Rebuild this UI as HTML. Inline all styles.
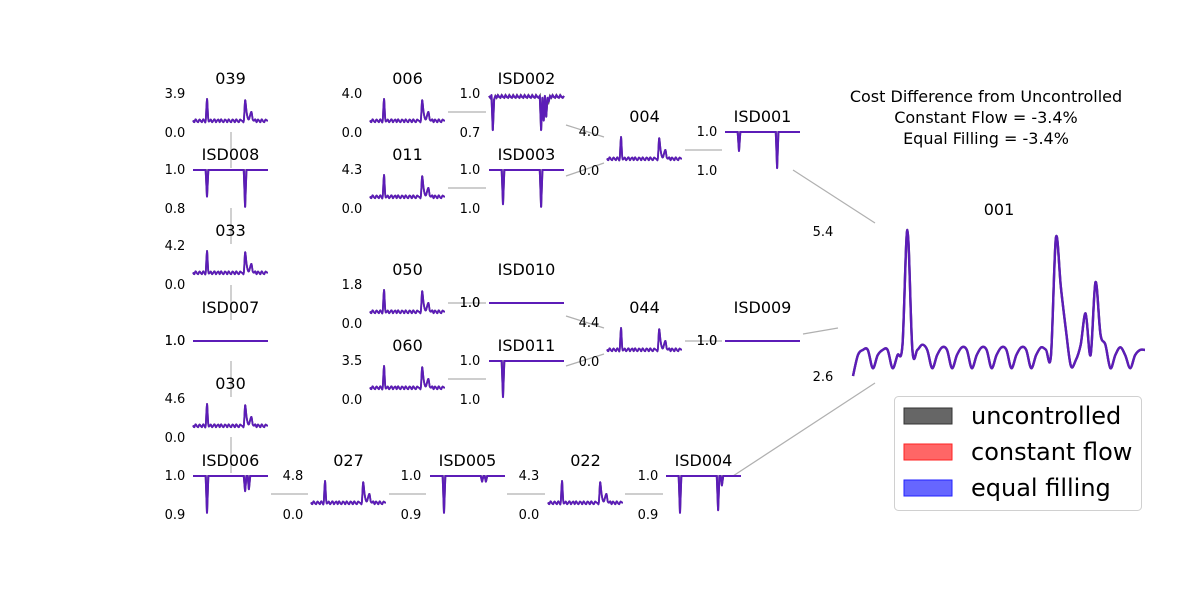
<!DOCTYPE html>
<html><head><meta charset="utf-8">
<style>
html,body{margin:0;padding:0;background:#fff;}
svg{display:block;font-family:"DejaVu Sans","Liberation Sans",sans-serif;}
</style></head>
<body>
<svg id="c" width="1200" height="600" viewBox="0 0 1200 600"></svg>
<script>
// ---- data ----
const mainValues = [2.6,3.0,3.1,3.1,2.75,3.0,3.1,3.1,2.75,3.0,3.2,5.4,3.1,3.1,3.2,3.1,2.75,3.0,3.15,3.1,2.75,3.0,3.15,3.1,2.75,3.0,3.15,3.1,2.75,3.0,3.15,3.1,2.75,3.0,3.15,3.1,2.75,3.0,3.15,3.1,3.0,5.25,4.3,3.5,2.8,2.9,3.2,3.8,3.0,4.4,3.4,3.2,2.75,3.0,3.15,3.0,2.75,3.0,3.1,3.1];
const junctionShape = [0.26,0.2,0.3,0.24,0.2,0.29,0.25,0.2,0.3,0.24,0.25,1.0,0.3,0.24,0.29,0.2,0.25,0.3,0.2,0.26,0.29,0.2,0.3,0.24,0.2,0.29,0.26,0.2,0.3,0.24,0.2,0.29,0.26,0.2,0.3,0.24,0.2,0.29,0.26,0.24,0.25,0.95,0.6,0.35,0.3,0.45,0.55,0.3,0.25,0.3,0.2,0.29,0.25,0.2,0.3,0.24,0.2,0.29,0.26,0.25];
const isdFlat = [1,1,1,1,1,1,1,1,1,1,1,1,1,1,1,1,1,1,1,1,1,1,1,1,1,1,1,1,1,1,1,1,1,1,1,1,1,1,1,1,1,1,1,1,1,1,1,1,1,1,1,1,1,1,1,1,1,1,1,1];
const isd002 = [0.95,0.9,0.97,0.05,0.85,0.95,0.9,0.97,0.92,0.9,0.97,0.92,0.9,0.97,0.92,0.9,0.97,0.92,0.9,0.97,0.92,0.9,0.97,0.92,0.9,0.97,0.92,0.9,0.97,0.92,0.9,0.97,0.92,0.9,0.97,0.92,0.9,0.97,0.92,0.9,0.95,0.05,0.9,0.3,0.95,0.4,0.9,0.8,0.95,0.9,0.97,0.92,0.9,0.97,0.92,0.9,0.97,0.92,0.9,0.95];
const dips008 = [[11,0.3],[41,0.03]];
const dips003 = [[11,0.1],[41,0.03]];
const dips001 = [[11,0.5],[41,0.05]];
const dips011 = [[11,0.05]];
const dips006 = [[11,0.03],[41,0.6],[44,0.65]];
const dips005 = [[11,0.03],[41,0.85],[44,0.85]];
const dips004 = [[11,0.03],[41,0.1],[44,0.75]];

const svg = document.getElementById('c');
const NS = 'http://www.w3.org/2000/svg';
function mk(tag, attrs, parent){
  const e = document.createElementNS(NS, tag);
  for (const k in attrs) e.setAttribute(k, attrs[k]);
  (parent||svg).appendChild(e);
  return e;
}
function withDips(d){const a=isdFlat.slice(); d.forEach(p=>{a[p[0]]=p[1];}); return a;}

const connectors = [
 [231,132,231,168],[231,208,231,244],[231,285,231,320],[231,361,231,397],[231,437,231,473],
 [448,112,486,112],[448,188,486,188],[448,303,486,303],[448,379,486,379],
 [566,125,604,137],[566,176,604,163],[566,316,604,328],[566,366,604,354],
 [685,150,722,150],[685,341,722,341],
 [793,170,875,223],[803,334,838,328],[733,476,875,383],
 [271,494,308,494],[389,494,426,494],[507,494,545,494],[625,494,663,494]
];
connectors.forEach(c=>{
  const l = mk('line',{x1:c[0],y1:c[1],x2:c[2],y2:c[3],stroke:'#b0b0b0','stroke-width':1.2});
  
  
});

function pathD(pts, smooth){
  if (!smooth) return pts.map((p,i)=>(i?'L':'M')+p[0].toFixed(1)+','+p[1].toFixed(1)).join(' ');
  let d = 'M'+pts[0][0].toFixed(1)+','+pts[0][1].toFixed(1);
  for (let i=0;i<pts.length-1;i++){
    const p0=pts[Math.max(0,i-1)], p1=pts[i], p2=pts[i+1], p3=pts[Math.min(pts.length-1,i+2)];
    const c1=[p1[0]+(p2[0]-p0[0])/6, p1[1]+(p2[1]-p0[1])/6];
    const c2=[p2[0]-(p3[0]-p1[0])/6, p2[1]-(p3[1]-p1[1])/6];
    d += ' C'+c1[0].toFixed(1)+','+c1[1].toFixed(1)+' '+c2[0].toFixed(1)+','+c2[1].toFixed(1)+' '+p2[0].toFixed(1)+','+p2[1].toFixed(1);
  }
  return d;
}
function drawSeries(g, vals, x0, w, yTop, yBot, lo, hi, sw, smooth){
  const xs = i => x0 + i*w/(vals.length-1);
  const ys = v => yBot - (v-lo)/(hi-lo)*(yBot-yTop);
  const pts = vals.map((v,i)=>[xs(i),ys(v)]);
  const d = pathD(pts, smooth);
  const p1 = mk('path',{d:d,fill:'none',stroke:'#555','stroke-width':sw},g);
  
  
  const p2 = mk('path',{d:d,fill:'none',stroke:'#5c1cb8','stroke-width':sw,'stroke-linejoin':'round'},g);
  
  
}

const panels = [
 ['039',193,78,junctionShape,'3.9','0.0',175],
 ['ISD008',193,154,withDips(dips008),'1.0','0.8',175],
 ['033',193,230,junctionShape,'4.2','0.0',175],
 ['ISD007',193,307,isdFlat,'1.0','1.0',175,true],
 ['030',193,383,junctionShape,'4.6','0.0',175],
 ['ISD006',193,460,withDips(dips006),'1.0','0.9',175],
 ['006',370,78,junctionShape,'4.0','0.0',352],
 ['011',370,154,junctionShape,'4.3','0.0',352],
 ['050',370,269,junctionShape,'1.8','0.0',352],
 ['060',370,345,junctionShape,'3.5','0.0',352],
 ['ISD002',489,78,isd002,'1.0','0.7',470],
 ['ISD003',489,154,withDips(dips003),'1.0','1.0',470],
 ['ISD010',489,269,isdFlat,'1.0','1.0',470,true],
 ['ISD011',489,345,withDips(dips011),'1.0','1.0',470],
 ['004',607,116,junctionShape,'4.0','0.0',589],
 ['044',607,307,junctionShape,'4.4','0.0',589],
 ['ISD001',725,116,withDips(dips001),'1.0','1.0',707],
 ['ISD009',725,307,isdFlat,'1.0','1.0',707,true],
 ['027',311,460,junctionShape,'4.8','0.0',293],
 ['ISD005',430,460,withDips(dips005),'1.0','0.9',411],
 ['022',548,460,junctionShape,'4.3','0.0',529],
 ['ISD004',666,460,withDips(dips004),'1.0','0.9',648]
];
panels.forEach(p=>{
  const [name,x0,ty,vals,hiL,loL,lx,flat] = p;
  const g = mk('g',{});
  
  
  const t = mk('text',{x:x0+37.5,y:ty+6,'text-anchor':'middle','font-size':16,fill:'#000'},g);
  t.textContent = name;
  
  
  let yTop = ty+16, yBot = ty+54;
  if (flat){ yTop = ty+34; yBot = ty+72; }
  const hy = flat ? ty+38 : ty+20, ly = flat ? ty+38 : ty+59;
  const a = mk('text',{x:lx,y:hy,'text-anchor':'middle','font-size':13,fill:'#000'},g);
  a.textContent = hiL;
  
  
  const b = mk('text',{x:lx,y:ly,'text-anchor':'middle','font-size':13,fill:'#000'},g);
  b.textContent = loL;
  
  
  if (name.startsWith('ISD')) drawSeries(g, vals, x0, 75, yTop, yBot, 0, 1, 2, false);
  else drawSeries(g, vals, x0, 75, yTop+2, yBot-4, 0, 1.1, 1.8, true);
});

const mg = mk('g',{});


const mt = mk('text',{x:999,y:215,'text-anchor':'middle','font-size':16},mg);
mt.textContent='001';


const m1 = mk('text',{x:823,y:236,'text-anchor':'middle','font-size':13},mg);
m1.textContent='5.4';


const m2 = mk('text',{x:823,y:381,'text-anchor':'middle','font-size':13},mg);
m2.textContent='2.6';


drawSeries(mg, mainValues, 853, 292, 230, 376, 2.6, 5.4, 2.4, true);

[['Cost Difference from Uncontrolled',102],['Constant Flow = -3.4%',123],['Equal Filling = -3.4%',144]].forEach((r,i)=>{
  const t = mk('text',{x:986,y:r[1],'text-anchor':'middle','font-size':16});
  t.textContent = r[0];
  
  
});

const lg = mk('g',{});


const lb = mk('rect',{x:894.5,y:396.5,width:247,height:114,rx:4,fill:'#fff',stroke:'#d0d0d0'},lg);


[['uncontrolled','#666','#333'],['constant flow','#ff6666','#ff2222'],['equal filling','#6666ff','#2222ff']].forEach((e,i)=>{
  const y = 408 + i*36;
  const r = mk('rect',{x:904,y:y,width:48,height:16,fill:e[1],stroke:e[2]},lg);
  
  
  const t = mk('text',{x:971,y:y+16,'font-size':24},lg);
  t.textContent = e[0];
  
  
});
</script>
</body></html>
